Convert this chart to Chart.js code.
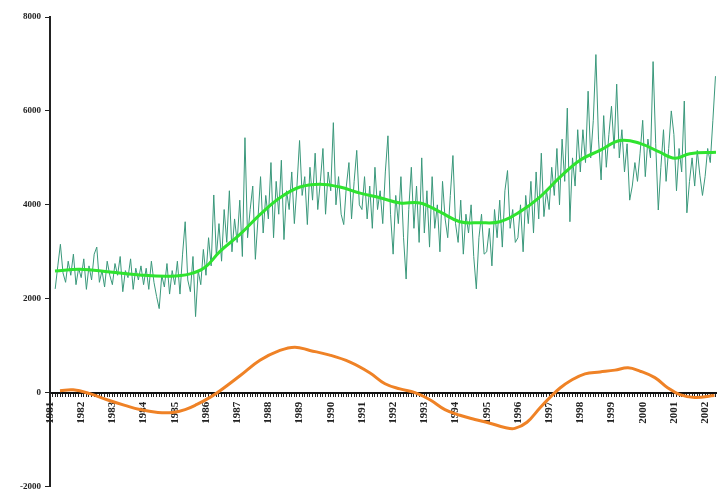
<!DOCTYPE html>
<html>
<head>
<meta charset="utf-8">
<script src="https://cdn.jsdelivr.net/npm/chart.js@4"></script>
<style>
  body { margin: 0; background: #fff; }
  #wrap { width: 718px; height: 496px; }
</style>
</head>
<body>
<div id="wrap"><canvas id="myChart"></canvas></div>
<script>
// monthly series starts in March 1981
var startYear = 1981;
var startMonth = 3;

// monthly values, one row per year
var monthlyValues = [
  2210, 2700, 3160, 2550, 2350, 2800, 2500, 2950, 2300, 2650,                 // 1981 (Mar-Dec)
  2450, 2850, 2200, 2700, 2400, 2950, 3100, 2350, 2600, 2250, 2800, 2500,     // 1982
  2300, 2750, 2500, 2900, 2150, 2600, 2450, 2850, 2200, 2650, 2400, 2700,     // 1983
  2300, 2650, 2200, 2800, 2350, 2050, 1790, 2500, 2250, 2750, 2100, 2600,     // 1984
  2300, 2800, 2100, 2950, 3640, 2400, 2150, 2900, 1620, 2600, 2300, 3050,     // 1985
  2500, 3300, 2700, 4210, 2900, 3600, 2800, 3900, 3200, 4300, 3000, 3700,     // 1986
  3200, 4100, 2900, 5430, 3300, 3900, 4400, 2840, 3700, 4600, 3400, 4200,     // 1987
  3700, 4900, 3300, 4500, 3800, 4950, 3260, 4300, 3900, 4700, 3600, 4400,     // 1988
  5370, 4200, 4600, 3580, 4800, 4100, 5100, 3900, 4500, 5200, 3800, 4700,     // 1989
  4300, 5750, 4000, 4600, 3800, 3580, 4400, 4900, 3700, 4500, 5160, 4000,     // 1990
  3900, 4600, 3700, 4400, 3500, 4800, 3900, 4300, 3600, 4700, 5470, 3800,     // 1991
  2950, 4200, 3600, 4600, 3300, 2420, 3900, 4800, 3500, 4400, 3200, 5000,     // 1992
  3400, 4300, 3100, 4600, 3500, 4000, 3000, 4500, 3700, 3300, 4200, 5050,     // 1993
  3600, 3200, 4100, 2950, 3800, 3400, 4000, 2900, 2210, 3300, 3800, 2950,     // 1994
  3000, 3500, 2700, 3900, 3300, 4100, 3100, 4300, 4730, 3500, 3900, 3200,     // 1995
  3300, 4000, 3000, 4200, 3600, 4500, 3400, 4700, 3700, 5100, 3750, 4300,     // 1996
  3900, 4800, 4200, 5200, 4000, 5400, 4500, 6060, 3640, 5000, 4400, 5600,     // 1997
  4700, 5600, 4900, 6420, 5000, 5800, 7200, 5400, 4530, 5900, 4800, 5500,     // 1998
  6100, 5200, 6570, 5000, 5600, 4700, 5300, 4100, 4400, 4900, 4500, 5100,     // 1999
  5800, 4600, 5400, 5000, 7050, 5300, 3890, 4800, 5600, 4500, 5200, 6000,     // 2000
  5500, 4300, 5200, 4700, 6210, 3830, 4500, 5000, 4400, 5160, 4630, 4200,     // 2001
  4600, 5200, 4900, 5800, 6740                                                // 2002 (Jan-May)
];

// smoothed trend
var trendYears  = [1981.16, 1981.96, 1982.92, 1983.88, 1984.85, 1985.49, 1985.97, 1986.45, 1987.09, 1987.73,
                   1988.37, 1989.01, 1989.65, 1990.29, 1990.94, 1991.58, 1992.22, 1992.86, 1993.5, 1994.14,
                   1994.78, 1995.42, 1996.06, 1996.71, 1997.35, 1997.99, 1998.63, 1999.27, 1999.91, 2000.55,
                   2001.03, 2001.51, 2002.35];
var trendValues = [2590, 2630, 2570, 2505, 2480, 2530, 2670, 3010, 3370, 3790,
                   4150, 4380, 4440, 4380, 4250, 4150, 4040, 4040, 3850, 3640,
                   3620, 3640, 3850, 4170, 4590, 4950, 5160, 5370, 5310, 5120,
                   4990, 5090, 5120];

// cycle (difference)
var cycleYears  = [1981.32, 1981.74, 1982.28, 1982.83, 1983.4, 1983.88, 1984.46, 1984.94, 1985.33, 1985.71,
                   1986.13, 1986.45, 1987.09, 1987.73, 1988.37, 1988.85, 1989.33, 1989.97, 1990.62, 1991.26,
                   1991.74, 1992.22, 1992.7, 1993.18, 1993.66, 1994.14, 1994.62, 1995.1, 1995.58, 1995.9,
                   1996.29, 1996.71, 1997.03, 1997.35, 1997.67, 1998.15, 1998.63, 1999.11, 1999.53, 1999.91,
                   2000.39, 2000.81, 2001.19, 2001.67, 2002.3];
var cycleValues = [40, 60, -20, -150, -270, -360, -420, -420, -360, -250,
                   -100, 40, 360, 690, 900, 970, 900, 800, 650, 420,
                   190, 80, 0, -150, -360, -480, -570, -650, -740, -760,
                   -630, -320, -100, 100, 250, 400, 440, 480, 530, 460,
                   320, 100, -40, -100, -60];

var yTicks = [-2000, 0, 2000, 4000, 6000, 8000];

function pairs(xs, ys) {
  return xs.map(function(x, i) { return { x: x, y: ys[i] }; });
}

var monthlyPoints = monthlyValues.map(function(v, i) {
  return { x: startYear + (startMonth - 1 + i) / 12, y: v };
});

var ctx = document.getElementById('myChart').getContext('2d');
new Chart(ctx, {
  type: 'line',
  data: {
    datasets: [{
      label: 'Cycle',
      data: pairs(cycleYears, cycleValues),
      borderColor: '#ef8226',
      borderWidth: 3,
      pointRadius: 0,
      tension: 0.4
    }, {
      label: 'Trend',
      data: pairs(trendYears, trendValues),
      borderColor: '#2fe32f',
      borderWidth: 3,
      pointRadius: 0,
      tension: 0.4
    }, {
      label: 'Monthly',
      data: monthlyPoints,
      borderColor: '#3a987b',
      borderWidth: 1,
      pointRadius: 0,
      tension: 0
    }]
  },
  options: {
    responsive: true,
    maintainAspectRatio: false,
    animation: false,
    layout: { padding: { top: 17, right: 2, bottom: -4, left: 0 } },
    plugins: {
      legend: { display: false },
      tooltip: { enabled: false }
    },
    scales: {
      x: {
        type: 'linear',
        position: { y: 0 },
        min: 1981,
        max: 2002.35,
        afterBuildTicks: function(scale) {
          var t = [];
          for (var m = 0; m <= 256; m++) {
            var v = 1981 + m / 12;
            if (v <= 2002.35) t.push({ value: v });
          }
          scale.ticks = t;
        },
        afterFit: function(scale) { scale.paddingRight = 0; scale.paddingLeft = 0; },
        border: { display: true, color: '#111', width: 2 },
        grid: { drawOnChartArea: false, drawTicks: true, tickLength: 3, color: '#222' },
        ticks: {
          autoSkip: false,
          minRotation: 90,
          maxRotation: 90,
          padding: 6,
          color: '#222',
          font: { family: 'Liberation Serif', size: 11, weight: 'bold' },
          callback: function(v) {
            var r = Math.round(v);
            return Math.abs(v - r) < 1e-6 ? String(r) : '';
          }
        }
      },
      y: {
        min: -2000,
        max: 8000,
        afterBuildTicks: function(scale) {
          scale.ticks = yTicks.map(function(v) { return { value: v }; });
        },
        afterFit: function(scale) { scale.width = 50; },
        border: { display: true, color: '#222', width: 2 },
        grid: { drawOnChartArea: false, drawTicks: true, tickLength: 5, color: '#222' },
        ticks: {
          padding: 4,
          color: '#222',
          font: { family: 'Liberation Serif', size: 9, weight: 'bold' },
          callback: function(v) { return String(v); }
        }
      }
    }
  }
});
</script>
</body>
</html>
